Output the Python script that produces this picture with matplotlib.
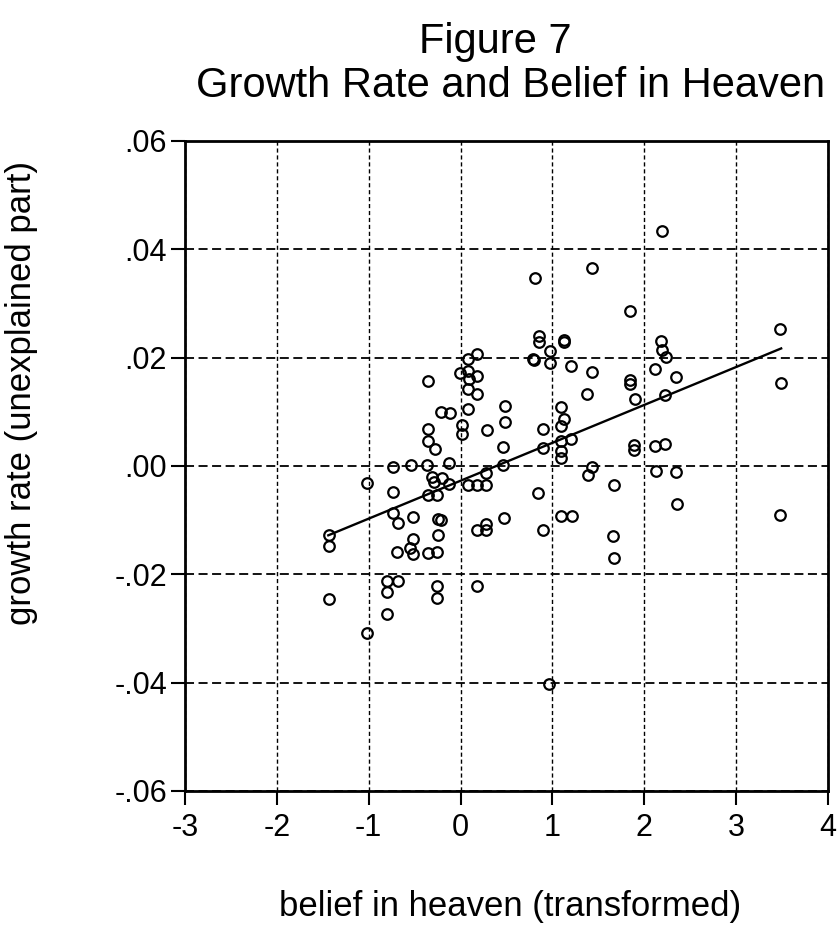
"""
Figure 7 - Growth Rate and Belief in Heaven
Scatter of unexplained growth rate against transformed belief in heaven,
with the fitted regression line. Saves out.png.
"""
import matplotlib
matplotlib.use("Agg")
import matplotlib.pyplot as plt

plt.rcParams["font.family"] = ["Liberation Sans", "DejaVu Sans"]

# belief in heaven (transformed)
belief = [
    -1.434, -1.433, -1.434, -1.018, -1.018, -0.806, -0.799, -0.806, -0.685, -0.739,
    -0.737, -0.735, -0.680, -0.687, -0.541, -0.518, -0.516, -0.551, -0.515, -0.361,
    -0.358, -0.261, -0.248, -0.208, -0.246, -0.352, -0.255, -0.252, -0.257, -0.127,
    -0.306, -0.204, -0.287, -0.125, 0.084, 0.174, 0.278, 0.277, 0.467, 0.465,
    0.472, 0.174, 0.282, 0.282, 0.180, 0.179, 0.078, -0.010, 0.080, 0.091,
    0.181, -0.351, 0.082, 0.182, -0.211, -0.114, 0.084, 0.480, 0.481, 0.013,
    0.014, 0.291, -0.354, -0.353, -0.280, 0.808, 1.430, 2.190, 1.848, 3.478,
    0.851, 0.851, 1.121, 1.124, 0.971, 0.791, 0.802, 0.972, 1.206, 1.430,
    1.378, 1.844, 1.845, 1.900, 2.183, 2.195, 2.231, 2.113, 2.349, 2.221,
    3.483, 1.091, 1.129, 1.093, 0.896, 1.202, 1.095, 0.898, 1.096, 1.097,
    1.891, 1.891, 2.121, 2.222, 1.432, 1.386, 2.124, 2.350, 1.668, 0.843,
    2.354, 3.478, 1.095, 1.210, 0.900, 1.662, 1.665, 0.967,
]

# growth rate (unexplained part)
growth = [
    -0.0128, -0.0148, -0.0246, -0.0308, -0.0031, -0.0274, -0.0212, -0.0232, -0.0213, -0.0002,
    -0.0048, -0.0087, -0.0105, -0.0158, 0.0001, -0.0095, -0.0134, -0.0152, -0.0163, 0.0002,
    -0.0053, -0.0054, -0.0097, -0.0099, -0.0128, -0.0161, -0.0159, -0.0221, -0.0243, 0.0006,
    -0.0020, -0.0022, -0.0030, -0.0034, -0.0036, -0.0036, -0.0035, -0.0013, 0.0002, 0.0035,
    -0.0096, -0.0118, -0.0107, -0.0118, -0.0222, 0.0207, 0.0197, 0.0172, 0.0176, 0.0160,
    0.0166, 0.0157, 0.0142, 0.0133, 0.0100, 0.0098, 0.0105, 0.0111, 0.0082, 0.0076,
    0.0059, 0.0067, 0.0068, 0.0046, 0.0031, 0.0347, 0.0366, 0.0434, 0.0286, 0.0253,
    0.0240, 0.0229, 0.0232, 0.0228, 0.0213, 0.0197, 0.0195, 0.0191, 0.0185, 0.0173,
    0.0133, 0.0158, 0.0152, 0.0124, 0.0230, 0.0214, 0.0202, 0.0179, 0.0164, 0.0131,
    0.0153, 0.0108, 0.0087, 0.0074, 0.0069, 0.0050, 0.0046, 0.0034, 0.0027, 0.0014,
    0.0038, 0.0030, 0.0036, 0.0041, -0.0002, -0.0016, -0.0010, -0.0011, -0.0035, -0.0049,
    -0.0070, -0.0090, -0.0092, -0.0092, -0.0119, -0.0129, -0.0170, -0.0402,
]

# fitted line end points
fit_x = [-1.44, 3.49]
fit_y = [-0.0128, 0.0217]

x_ticks = [-3, -2, -1, 0, 1, 2, 3, 4]
y_ticks = [0.06, 0.04, 0.02, 0.0, -0.02, -0.04, -0.06]
y_tick_labels = [".06", ".04", ".02", ".00", "-.02", "-.04", "-.06"]


fig = plt.figure(figsize=(8.39, 9.5), dpi=100)
ax = fig.add_axes([0.2205, 0.1674, 0.7664, 0.6842])

ax.plot(belief, growth, "o", ls="none", ms=7.6, mfc="none", mec="black",
        mew=1.6, zorder=3)
ax.plot(fit_x, fit_y, color="black", lw=1.7, zorder=4)

ax.set_xlim(-3, 4); ax.set_ylim(-0.06, 0.06)
ax.set_xticks(x_ticks)
ax.set_xticklabels([str(t) for t in x_ticks])
ax.set_yticks(y_ticks)
ax.set_yticklabels(y_tick_labels)
ax.tick_params(direction="out", length=10, width=1.5, labelsize=22,
               colors="black")
ax.tick_params(axis="y", pad=3)
ax.tick_params(axis="x", pad=6)

ax.xaxis.grid(True, color="black", lw=1.0, ls=(0, (3, 2)))
ax.yaxis.grid(True, color="black", lw=1.3, ls=(0, (5, 2.5)))
ax.set_axisbelow(True)
for sp in ax.spines.values():
    sp.set_linewidth(2); sp.set_color("black")

ax.set_xlabel("belief in heaven (transformed)", fontsize=25, va="center")
ax.xaxis.set_label_coords(0.505, -0.178)
ax.set_ylabel("growth rate (unexplained part)", fontsize=25, va="center")
ax.yaxis.set_label_coords(-0.254, 0.612)

fig.text(495 / 839, 1 - 42 / 950, "Figure 7", fontsize=30,
         ha="center", va="center")
fig.text(511 / 839, 1 - 86 / 950, "Growth Rate and Belief in Heaven",
         fontsize=30, ha="center", va="center")

fig.savefig("out.png", dpi=100)
plt.close(fig)
